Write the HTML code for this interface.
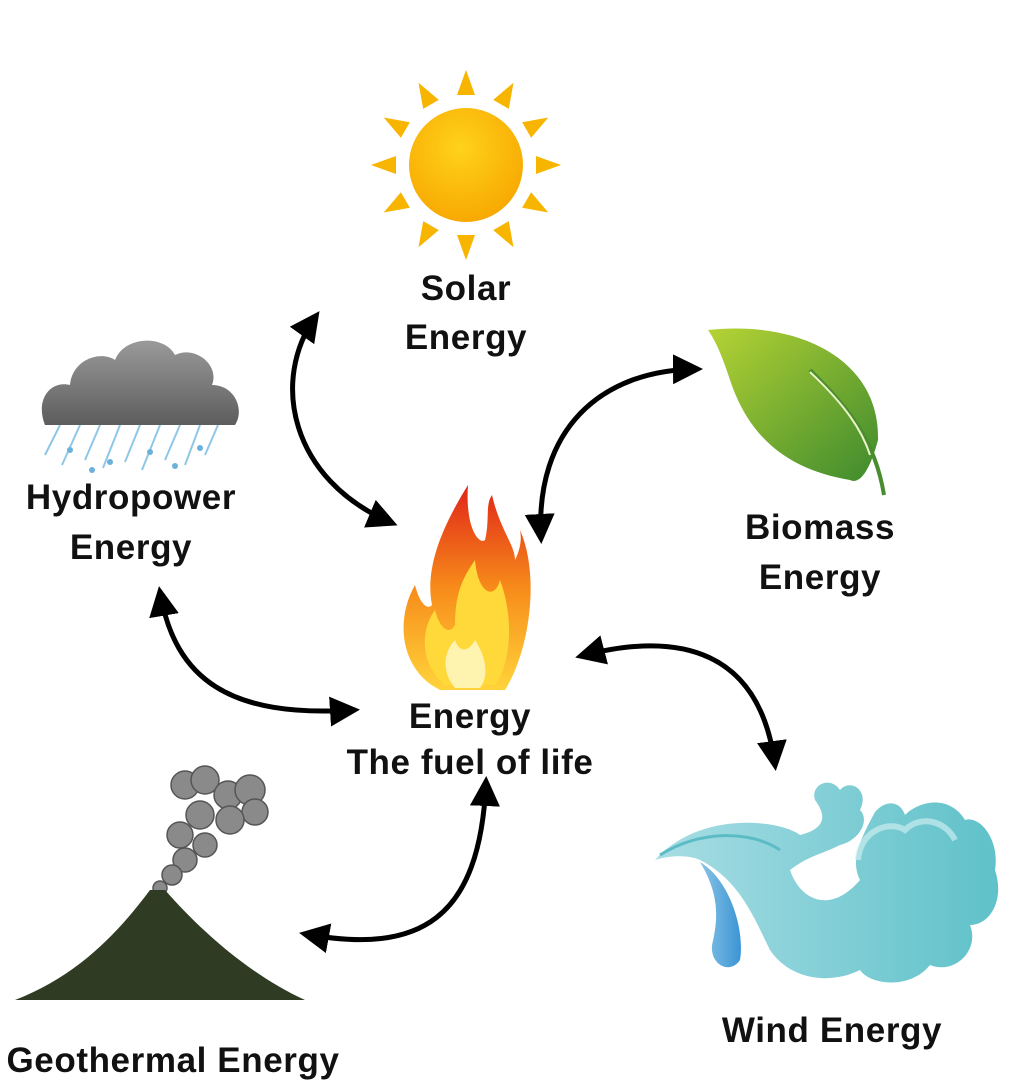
<!DOCTYPE html>
<html><head><meta charset="utf-8"><style>
html,body{margin:0;padding:0;background:#fff;}
svg{display:block}
text{font-family:"Liberation Sans",sans-serif;font-weight:bold;font-size:35px;letter-spacing:0.6px;fill:#111;text-anchor:middle}
</style></head><body>
<svg width="1024" height="1089" viewBox="0 0 1024 1089" xmlns="http://www.w3.org/2000/svg">
<defs>
<radialGradient id="sun" cx="0.45" cy="0.35" r="0.7"><stop offset="0" stop-color="#ffd21a"/><stop offset="1" stop-color="#f7a600"/></radialGradient>
<linearGradient id="cloud" x1="0" y1="0" x2="0" y2="1"><stop offset="0" stop-color="#9a9a9a"/><stop offset="1" stop-color="#5d5d5d"/></linearGradient>
<linearGradient id="leaf" x1="0" y1="0" x2="1" y2="1"><stop offset="0" stop-color="#b5d334"/><stop offset="1" stop-color="#3e8a2e"/></linearGradient>
<linearGradient id="fire" x1="0" y1="1" x2="0" y2="0"><stop offset="0" stop-color="#ffd43a"/><stop offset="0.5" stop-color="#f78b1a"/><stop offset="1" stop-color="#e02418"/></linearGradient>
<linearGradient id="wind" x1="0" y1="0" x2="1" y2="0"><stop offset="0" stop-color="#a8dde4"/><stop offset="1" stop-color="#5fc1c9"/></linearGradient>
<linearGradient id="wave" x1="0" y1="0" x2="1" y2="0"><stop offset="0" stop-color="#8cc4e6"/><stop offset="1" stop-color="#3a95d4"/></linearGradient>
<marker id="ah" viewBox="0 0 10 10" refX="8" refY="5" markerWidth="6" markerHeight="6" orient="auto-start-reverse" markerUnits="strokeWidth"><path d="M0,0 L10,5 L0,10 z" fill="#000"/></marker>
</defs>

<!-- Sun -->
<g transform="translate(466,165)" fill="#f7b500">
<g id="rays">
<polygon points="-9,-70 9,-70 0,-95"/>
</g>
<use href="#rays" transform="rotate(30)"/><use href="#rays" transform="rotate(60)"/><use href="#rays" transform="rotate(90)"/>
<use href="#rays" transform="rotate(120)"/><use href="#rays" transform="rotate(150)"/><use href="#rays" transform="rotate(180)"/>
<use href="#rays" transform="rotate(210)"/><use href="#rays" transform="rotate(240)"/><use href="#rays" transform="rotate(270)"/>
<use href="#rays" transform="rotate(300)"/><use href="#rays" transform="rotate(330)"/>
<circle r="57" fill="url(#sun)"/>
</g>
<text x="466" y="300">Solar</text>
<text x="466" y="349">Energy</text>

<!-- Cloud -->
<g>
<g stroke="#8fc7e6" stroke-width="2">
<line x1="60" y1="425" x2="45" y2="455"/><line x1="80" y1="425" x2="62" y2="465"/><line x1="100" y1="425" x2="85" y2="460"/>
<line x1="120" y1="425" x2="103" y2="468"/><line x1="140" y1="425" x2="125" y2="462"/><line x1="160" y1="425" x2="142" y2="470"/>
<line x1="180" y1="425" x2="165" y2="460"/><line x1="200" y1="425" x2="185" y2="465"/><line x1="218" y1="425" x2="205" y2="455"/>
</g>
<g fill="#6bb1dc"><circle cx="70" cy="450" r="3"/><circle cx="110" cy="462" r="3"/><circle cx="150" cy="452" r="3"/><circle cx="175" cy="466" r="3"/><circle cx="200" cy="448" r="3"/><circle cx="92" cy="470" r="3"/></g>
<path d="M45,425 C35,400 50,380 70,385 C72,360 100,350 115,360 C125,335 165,335 175,355 C195,345 220,365 212,385 C235,385 245,410 235,425 Z" fill="url(#cloud)"/>
</g>
<text x="131" y="509">Hydropower</text>
<text x="131" y="559">Energy</text>

<!-- Leaf -->
<path d="M708,330 C800,320 880,360 878,440 C870,470 860,485 850,480 C790,470 750,440 730,380 C722,355 715,340 708,330 Z" fill="url(#leaf)"/>
<path d="M810,370 C850,410 875,440 884,495" stroke="#4a8d2e" stroke-width="4" fill="none"/>
<path d="M810,372 C845,405 862,430 870,455" stroke="#eaf4c8" stroke-width="2" fill="none"/>
<text x="820" y="539">Biomass</text>
<text x="820" y="589">Energy</text>

<!-- Fire -->
<path d="M440,690 C400,670 395,620 415,585 C420,605 428,610 432,605 C425,570 440,530 468,485 C465,530 480,545 485,540 C490,520 485,505 492,495 C500,530 515,545 515,560 C520,550 522,540 520,530 C540,575 530,650 505,690 Z" fill="url(#fire)"/>
<path d="M445,685 C420,665 420,630 435,610 C440,630 450,635 455,625 C455,590 465,575 475,560 C478,595 495,600 500,580 C515,620 510,665 495,685 Z" fill="#ffd83a"/>
<path d="M455,688 C440,670 445,650 455,640 C460,655 470,650 475,640 C485,655 490,675 480,688 Z" fill="#fff3b0"/>
<text x="470" y="728">Energy</text>
<text x="470" y="774">The fuel of life</text>

<!-- Volcano -->
<g fill="#8a8a8a" stroke="#555" stroke-width="1.5">
<circle cx="185" cy="785" r="14"/><circle cx="205" cy="780" r="14"/><circle cx="228" cy="795" r="14"/><circle cx="250" cy="790" r="15"/>
<circle cx="255" cy="812" r="13"/><circle cx="230" cy="820" r="14"/><circle cx="200" cy="815" r="14"/><circle cx="180" cy="835" r="13"/>
<circle cx="205" cy="845" r="12"/><circle cx="185" cy="860" r="12"/><circle cx="172" cy="875" r="10"/><circle cx="160" cy="888" r="7"/>
</g>
<path d="M15,1000 C80,975 120,930 150,890 L165,890 C200,930 250,975 305,1000 Z" fill="#2f3b22"/>
<text x="173" y="1072">Geothermal Energy</text>

<!-- Wind -->
<g>
<path d="M655,860 C700,810 780,820 800,835 C820,830 830,820 815,800 C810,785 830,775 840,790 C850,778 870,790 860,810 C870,820 860,840 840,845 C820,855 810,855 790,870 C800,900 830,915 860,880 C850,860 860,840 875,812 C885,800 900,800 905,815 C920,800 950,795 965,820 C980,815 1000,840 995,870 C1005,900 990,925 970,925 C980,950 955,975 930,965 C910,990 870,985 860,970 C830,985 790,980 770,950 C755,920 740,880 700,860 C690,855 670,855 655,860 Z" fill="url(#wind)"/>
<path d="M700,862 C730,880 745,930 740,960 C730,975 710,965 712,945 C718,920 720,895 700,862 Z" fill="url(#wave)"/>
<path d="M660,855 C700,830 750,830 780,850" stroke="#5cbcc6" stroke-width="3" fill="none"/>
<path d="M858,860 C860,830 890,820 905,830 C920,815 945,820 955,840" stroke="#c9ecef" stroke-width="6" fill="none" opacity="0.7"/>
</g>
<text x="832" y="1042">Wind Energy</text>

<!-- Arrows -->
<g stroke="#000" stroke-width="5" fill="none" stroke-linecap="round">
<path d="M316,316 C270,380 290,480 392,523" marker-start="url(#ah)" marker-end="url(#ah)"/>
<path d="M541,538 C535,430 600,370 697,369" marker-start="url(#ah)" marker-end="url(#ah)"/>
<path d="M160,592 C175,680 230,718 354,710" marker-start="url(#ah)" marker-end="url(#ah)"/>
<path d="M581,656 C680,630 760,650 775,765" marker-start="url(#ah)" marker-end="url(#ah)"/>
<path d="M305,934 C420,955 480,920 486,782" marker-start="url(#ah)" marker-end="url(#ah)"/>
</g>
</svg>
</body></html>
